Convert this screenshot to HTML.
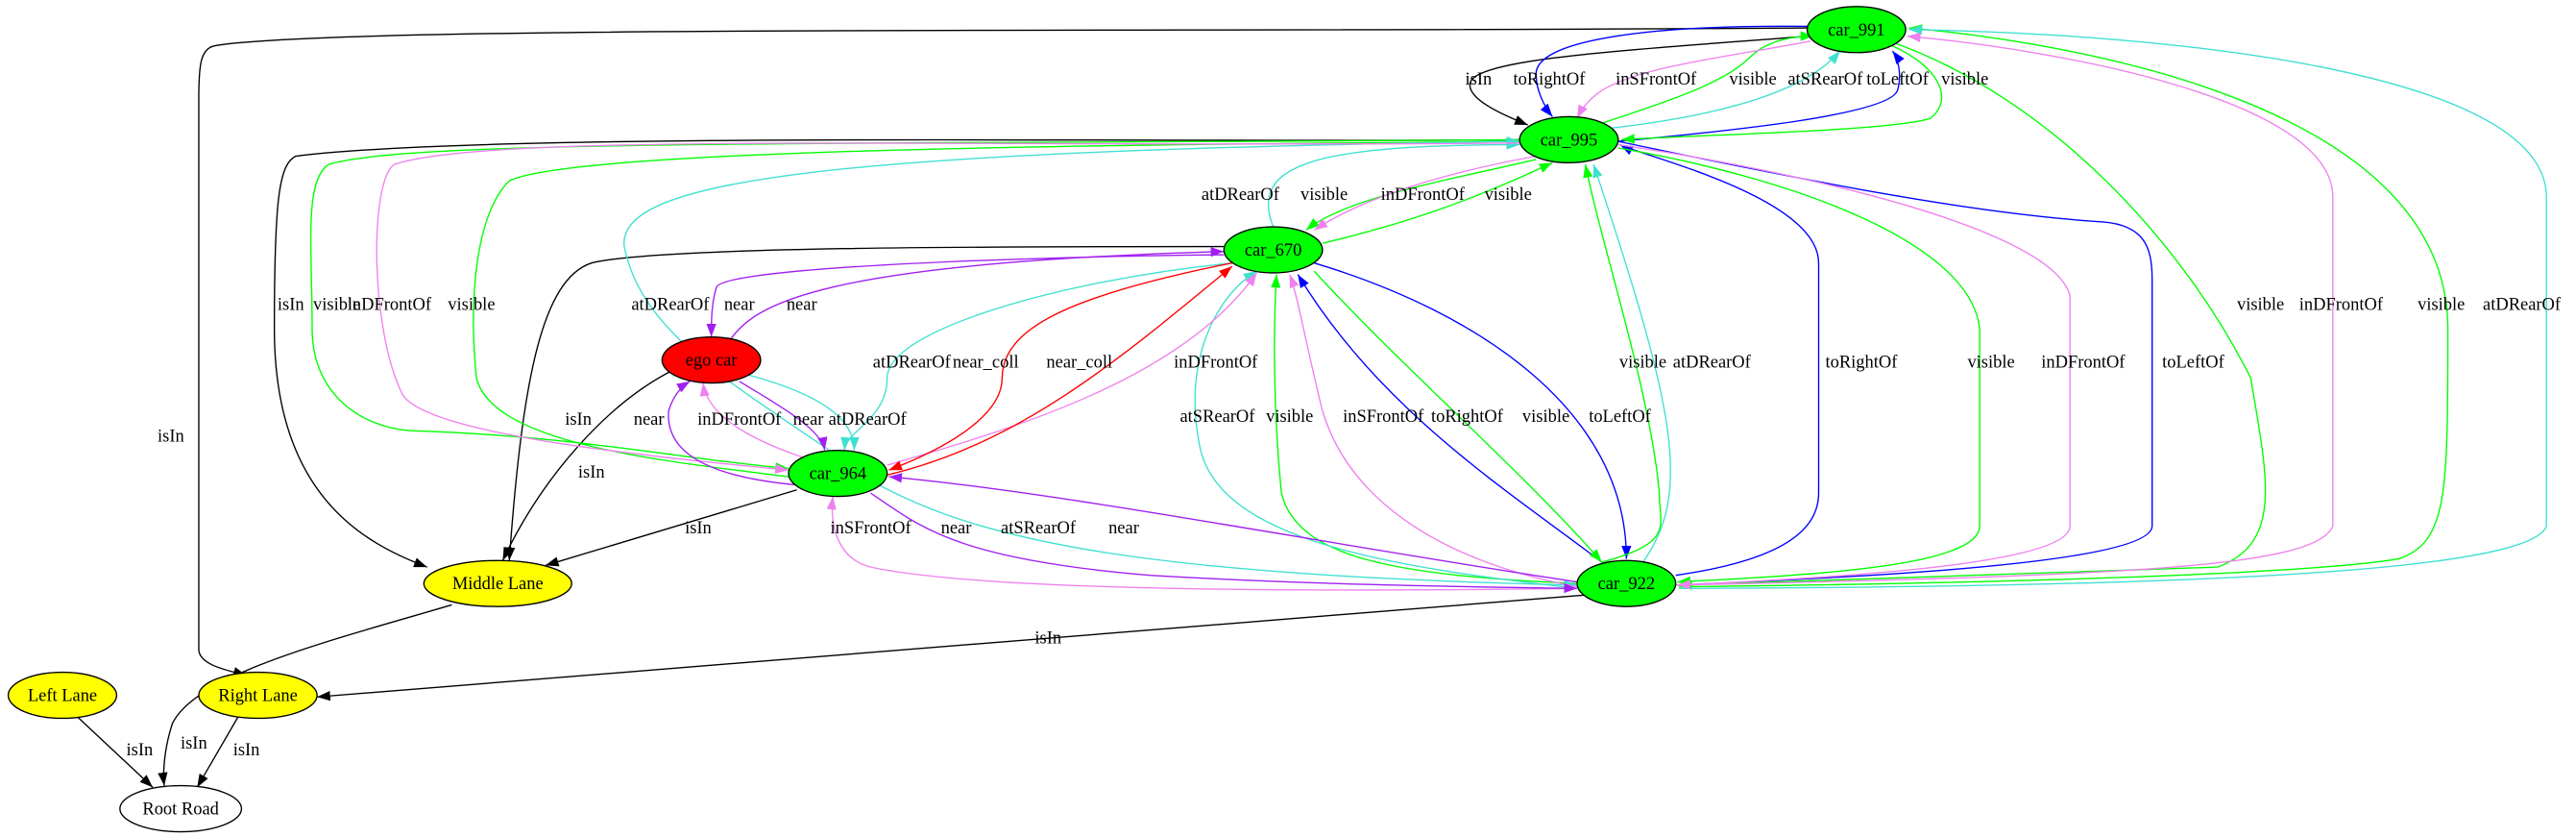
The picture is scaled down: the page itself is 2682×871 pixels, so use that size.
<!DOCTYPE html>
<html><head><meta charset="utf-8"><style>
html,body{margin:0;padding:0;background:#fff;}
svg{display:block}
text{font-family:"Liberation Serif",serif;font-size:10.8px;text-anchor:middle;dominant-baseline:central;fill:#000}
.e{fill:none;stroke-width:0.8}
.k{stroke:#000}.b{stroke:#0000ff}.g{stroke:#00ff00}.c{stroke:#40e0d0}.v{stroke:#ee82ee}.p{stroke:#a020f0}.r{stroke:#ff0000}
</style></head><body>
<svg width="2682" height="871" viewBox="0 0 1568 509.2" xmlns="http://www.w3.org/2000/svg">
<defs>
<marker id="mk" markerUnits="userSpaceOnUse" markerWidth="8" markerHeight="6" refX="8" refY="3" orient="auto"><path d="M0,0L8,3L0,6z" fill="#000"/></marker>
<marker id="mb" markerUnits="userSpaceOnUse" markerWidth="8" markerHeight="6" refX="8" refY="3" orient="auto"><path d="M0,0L8,3L0,6z" fill="#0000ff"/></marker>
<marker id="mg" markerUnits="userSpaceOnUse" markerWidth="8" markerHeight="6" refX="8" refY="3" orient="auto"><path d="M0,0L8,3L0,6z" fill="#00ff00"/></marker>
<marker id="mc" markerUnits="userSpaceOnUse" markerWidth="8" markerHeight="6" refX="8" refY="3" orient="auto"><path d="M0,0L8,3L0,6z" fill="#40e0d0"/></marker>
<marker id="mv" markerUnits="userSpaceOnUse" markerWidth="8" markerHeight="6" refX="8" refY="3" orient="auto"><path d="M0,0L8,3L0,6z" fill="#ee82ee"/></marker>
<marker id="mp" markerUnits="userSpaceOnUse" markerWidth="8" markerHeight="6" refX="8" refY="3" orient="auto"><path d="M0,0L8,3L0,6z" fill="#a020f0"/></marker>
<marker id="mr" markerUnits="userSpaceOnUse" markerWidth="8" markerHeight="6" refX="8" refY="3" orient="auto"><path d="M0,0L8,3L0,6z" fill="#ff0000"/></marker>
</defs>
<path class="e k" marker-end="url(#mk)" d="M1100,17 C700,20 200,15 130,28 C122,30 121,40 121,60 L121,395 C121,405 140,408 150,411"/>
<path class="e k" marker-end="url(#mk)" d="M1100,22 C1000,30 900,35 895,50 C892,60 915,70 930,76"/>
<path class="e k" marker-end="url(#mk)" d="M925,85 C700,87 300,80 180,95 C170,100 167,120 167,200 C167,300 220,330 260,345"/>
<path class="e k" marker-end="url(#mk)" d="M745,150 C600,150 400,150 360,160 C330,170 318,230 310,341"/>
<path class="e k" marker-end="url(#mk)" d="M410,225 C370,245 330,290 306,341"/>
<path class="e k" marker-end="url(#mk)" d="M485,298 L332,344"/>
<path class="e k" marker-end="url(#mk)" d="M275,368 C200,390 120,410 105,440 C100,455 99,470 100,478"/>
<path class="e k" marker-end="url(#mk)" d="M47,436 L93,479"/>
<path class="e k" marker-end="url(#mk)" d="M145,436 L120,479"/>
<path class="e k" marker-end="url(#mk)" d="M965,362 L193,424"/>
<path class="e b" marker-end="url(#mb)" d="M1100,16 C1000,15 935,25 935,45 C935,55 940,65 945,71"/>
<path class="e b" marker-end="url(#mb)" d="M985,86 C1050,80 1150,70 1155,55 C1158,45 1155,35 1152,31"/>
<path class="e b" marker-end="url(#mb)" d="M1020,350 C1090,340 1107,320 1107,300 L1107,160 C1107,120 1000,95 986,88"/>
<path class="e b" marker-end="url(#mb)" d="M985,86 C1100,110 1200,130 1280,135 C1305,137 1310,150 1310,170 L1310,320 C1310,345 1100,352 1021,356"/>
<path class="e b" marker-end="url(#mb)" d="M800,160 C900,190 990,250 990,340"/>
<path class="e b" marker-end="url(#mb)" d="M975,342 C920,300 840,250 790,167"/>
<path class="e g" marker-end="url(#mg)" d="M975,75 C1020,60 1050,50 1065,35 C1075,25 1090,22 1104,22"/>
<path class="e g" marker-end="url(#mg)" d="M1150,27 C1180,40 1190,60 1175,72 C1150,80 1030,82 987,85"/>
<path class="e g" marker-end="url(#mg)" d="M1150,25 C1250,60 1330,150 1370,230 C1380,290 1390,330 1350,345 C1200,350 1050,355 1022,356"/>
<path class="e g" marker-end="url(#mg)" d="M1022,357 C1200,355 1400,350 1460,340 C1490,330 1490,300 1490,200 C1490,60 1250,25 1162,17"/>
<path class="e g" marker-end="url(#mg)" d="M935,97 C880,110 820,120 795,140"/>
<path class="e g" marker-end="url(#mg)" d="M805,148 C860,135 900,120 945,99"/>
<path class="e g" marker-end="url(#mg)" d="M925,85 C500,88 250,85 200,100 C185,110 190,150 190,200 C190,240 220,260 250,262 C350,265 420,280 480,285"/>
<path class="e g" marker-end="url(#mg)" d="M480,290 C400,280 300,270 290,230 C285,180 290,130 310,110 C350,90 700,88 925,86"/>
<path class="e g" marker-end="url(#mg)" d="M985,90 C1100,110 1200,150 1205,200 L1205,320 C1205,345 1100,350 1021,354"/>
<path class="e g" marker-end="url(#mg)" d="M975,342 C1020,330 1010,320 1010,300 C1005,240 975,150 965,100"/>
<path class="e g" marker-end="url(#mg)" d="M800,165 C850,220 930,290 975,342"/>
<path class="e g" marker-end="url(#mg)" d="M960,355 C850,350 790,340 780,300 C775,250 775,200 777,167"/>
<path class="e c" marker-end="url(#mc)" d="M980,78 C1050,70 1100,55 1120,31"/>
<path class="e c" marker-end="url(#mc)" d="M1022,358 C1300,357 1540,350 1550,320 L1550,120 C1550,40 1300,20 1162,18"/>
<path class="e c" marker-end="url(#mc)" d="M775,138 C760,100 800,88 925,88"/>
<path class="e c" marker-end="url(#mc)" d="M505,274 C440,230 390,200 380,150 C375,110 500,92 925,86"/>
<path class="e c" marker-end="url(#mc)" d="M750,160 C650,170 540,200 540,230 C540,255 515,262 514,274"/>
<path class="e c" marker-end="url(#mc)" d="M455,228 C500,240 520,255 520,274"/>
<path class="e c" marker-end="url(#mc)" d="M960,358 C850,345 740,330 730,270 C720,220 740,180 765,165"/>
<path class="e c" marker-end="url(#mc)" d="M1000,342 C1030,300 1020,250 970,100"/>
<path class="e c" marker-end="url(#mc)" d="M535,295 C600,330 700,350 960,356"/>
<path class="e v" marker-end="url(#mv)" d="M1102,25 C1050,35 1000,40 975,55 C965,62 962,68 960,72"/>
<path class="e v" marker-end="url(#mv)" d="M1020,356 C1300,350 1410,345 1420,320 L1420,120 C1420,60 1250,30 1161,22"/>
<path class="e v" marker-end="url(#mv)" d="M935,95 C880,105 830,120 800,140"/>
<path class="e v" marker-end="url(#mv)" d="M925,87 C600,90 300,80 240,100 C225,110 225,200 245,240 C260,265 400,278 480,286"/>
<path class="e v" marker-end="url(#mv)" d="M985,88 C1100,105 1250,140 1260,180 L1260,320 C1260,345 1100,352 1021,356"/>
<path class="e v" marker-end="url(#mv)" d="M540,283 C620,260 720,230 765,166"/>
<path class="e v" marker-end="url(#mv)" d="M488,278 C450,265 430,250 428,233"/>
<path class="e v" marker-end="url(#mv)" d="M960,357 C870,340 820,300 805,250 C795,210 790,180 785,167"/>
<path class="e v" marker-end="url(#mv)" d="M960,358 C800,360 600,360 530,345 C510,340 505,320 507,302"/>
<path class="e p" marker-end="url(#mp)" d="M745,155 C700,155 440,160 436,175 C433,185 433,195 433,205"/>
<path class="e p" marker-end="url(#mp)" d="M445,206 C460,185 500,160 745,153"/>
<path class="e p" marker-end="url(#mp)" d="M450,232 C480,250 500,262 502,274"/>
<path class="e p" marker-end="url(#mp)" d="M485,295 C430,290 405,275 407,250 C410,240 415,235 420,232"/>
<path class="e p" marker-end="url(#mp)" d="M530,300 C560,320 580,340 700,350 C800,356 900,357 960,358"/>
<path class="e p" marker-end="url(#mp)" d="M960,354 C800,330 650,300 541,290"/>
<path class="e r" marker-end="url(#mr)" d="M750,160 C650,180 610,200 610,230 C610,255 570,275 541,286"/>
<path class="e r" marker-end="url(#mr)" d="M540,289 C620,270 680,220 750,162"/>
<g stroke="#000" stroke-width="0.8">
<ellipse cx="1130" cy="18" rx="30" ry="14" fill="#00ff00"/>
<ellipse cx="955" cy="85" rx="30" ry="14" fill="#00ff00"/>
<ellipse cx="775" cy="152" rx="30" ry="14" fill="#00ff00"/>
<ellipse cx="433" cy="219" rx="30" ry="14" fill="#ff0000"/>
<ellipse cx="510" cy="288" rx="30" ry="14" fill="#00ff00"/>
<ellipse cx="990" cy="355" rx="30" ry="14" fill="#00ff00"/>
<ellipse cx="303" cy="355" rx="45" ry="14" fill="#ffff00"/>
<ellipse cx="38" cy="423" rx="33" ry="14" fill="#ffff00"/>
<ellipse cx="157" cy="423" rx="36" ry="14" fill="#ffff00"/>
<ellipse cx="110" cy="492" rx="37" ry="14" fill="#fff"/>
</g>
<text x="1130" y="18">car_991</text>
<text x="955" y="85">car_995</text>
<text x="775" y="152">car_670</text>
<text x="433" y="219">ego car</text>
<text x="510" y="288">car_964</text>
<text x="990" y="355">car_922</text>
<text x="303" y="355">Middle Lane</text>
<text x="38" y="423">Left Lane</text>
<text x="157" y="423">Right Lane</text>
<text x="110" y="492">Root Road</text>
<text x="104" y="265">isIn</text>
<text x="900" y="48">isIn</text>
<text x="943" y="48">toRightOf</text>
<text x="1008" y="48">inSFrontOf</text>
<text x="1067" y="48">visible</text>
<text x="1111" y="48">atSRearOf</text>
<text x="1155" y="48">toLeftOf</text>
<text x="1196" y="48">visible</text>
<text x="1376" y="185">visible</text>
<text x="1425" y="185">inDFrontOf</text>
<text x="1486" y="185">visible</text>
<text x="1535" y="185">atDRearOf</text>
<text x="177" y="185">isIn</text>
<text x="205" y="185">visible</text>
<text x="237" y="185">inDFrontOf</text>
<text x="287" y="185">visible</text>
<text x="408" y="185">atDRearOf</text>
<text x="450" y="185">near</text>
<text x="488" y="185">near</text>
<text x="755" y="118">atDRearOf</text>
<text x="806" y="118">visible</text>
<text x="866" y="118">inDFrontOf</text>
<text x="918" y="118">visible</text>
<text x="1000" y="220">visible</text>
<text x="1042" y="220">atDRearOf</text>
<text x="1133" y="220">toRightOf</text>
<text x="1212" y="220">visible</text>
<text x="1268" y="220">inDFrontOf</text>
<text x="1335" y="220">toLeftOf</text>
<text x="555" y="220">atDRearOf</text>
<text x="600" y="220">near_coll</text>
<text x="657" y="220">near_coll</text>
<text x="740" y="220">inDFrontOf</text>
<text x="741" y="253">atSRearOf</text>
<text x="785" y="253">visible</text>
<text x="842" y="253">inSFrontOf</text>
<text x="893" y="253">toRightOf</text>
<text x="941" y="253">visible</text>
<text x="986" y="253">toLeftOf</text>
<text x="352" y="255">isIn</text>
<text x="395" y="255">near</text>
<text x="450" y="255">inDFrontOf</text>
<text x="492" y="255">near</text>
<text x="528" y="255">atDRearOf</text>
<text x="360" y="287">isIn</text>
<text x="425" y="321">isIn</text>
<text x="530" y="321">inSFrontOf</text>
<text x="582" y="321">near</text>
<text x="632" y="321">atSRearOf</text>
<text x="684" y="321">near</text>
<text x="638" y="388">isIn</text>
<text x="118" y="452">isIn</text>
<text x="85" y="456">isIn</text>
<text x="150" y="456">isIn</text>
</svg>
</body></html>
